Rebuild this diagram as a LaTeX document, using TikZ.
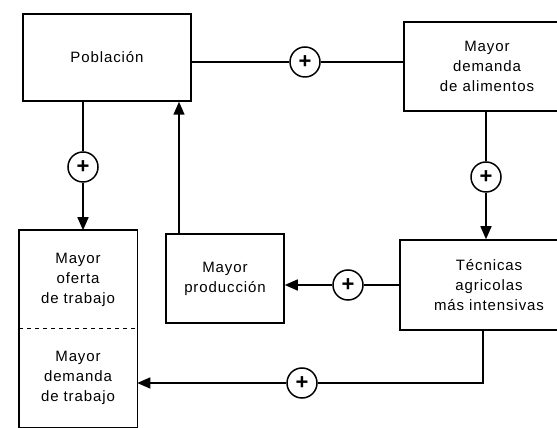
\documentclass[tikz,border=0pt]{standalone}
\usepackage{fontspec}
\setmainfont{Liberation Sans}[LetterSpace=6]
\usetikzlibrary{arrows.meta}
\begin{document}
\begin{tikzpicture}[x=1pt,y=1pt,
  line width=1.5pt,
  boxnode/.style={draw, align=center, inner sep=0pt, font=\fontsize{15}{20}\selectfont},
  plainnode/.style={align=center, inner sep=0pt, font=\fontsize{15}{20}\selectfont},
  plus/.style={circle, draw, minimum size=30pt, inner sep=0pt, font=\fontsize{22}{22}\selectfont\bfseries},
  arr/.style={-{Triangle[length=13pt,width=11pt]}}]
\useasboundingbox (0,0) rectangle (557,428);
% boxes
\node[boxnode, minimum width=168pt, minimum height=87pt] (pob) at (107,370.5) {Población};
\node[boxnode, minimum width=166pt, minimum height=89pt] (dem) at (487,361.5) {Mayor\\demanda\\de alimentos};
\node[boxnode, minimum width=178pt, minimum height=90pt] (tec) at (489,143) {Técnicas\\agricolas\\más intensivas};
\node[boxnode, minimum width=118pt, minimum height=89pt] (prod) at (225,149.5) {Mayor\\producción};
\node[plainnode, minimum width=117pt, minimum height=97pt] (ofe) at (78,148.5) {Mayor\\oferta\\de trabajo};
\node[plainnode, minimum width=117pt, minimum height=99pt] (dtr) at (78,50.5) {Mayor\\demanda\\de trabajo};
\draw (ofe.north west) rectangle (dtr.south east);
\draw[line width=1.2pt, dash pattern=on 4pt off 4pt] (ofe.south west) -- (ofe.south east);
% plus circles
\node[plus] (p1) at (305,366) {+};
\node[plus] (p2) at (83,261) {+};
\node[plus] (p3) at (486,251) {+};
\node[plus] (p4) at (348,143) {+};
\node[plus] (p5) at (302,45) {+};
% connectors
\draw (p1 -| pob.east) -- (p1);
\draw (p1) -- (p1 -| dem.west);
\draw (pob.south -| p2) -- (p2);
\draw[arr] (p2) -- (p2 |- ofe.north);
\draw (dem.south -| p3) -- (p3);
\draw[arr] (p3) -- (p3 |- tec.north);
\draw (tec.west |- p4) -- (p4);
\draw[arr] (p4) -- (p4 -| prod.east);
\draw[arr] ([xshift=-46pt]prod.north) -- ([xshift=-46pt]prod.north |- pob.south);
\draw ([xshift=-6pt]tec.south) |- (p5);
\draw[arr] (p5) -- (p5 -| dtr.east);
\end{tikzpicture}
\end{document}
